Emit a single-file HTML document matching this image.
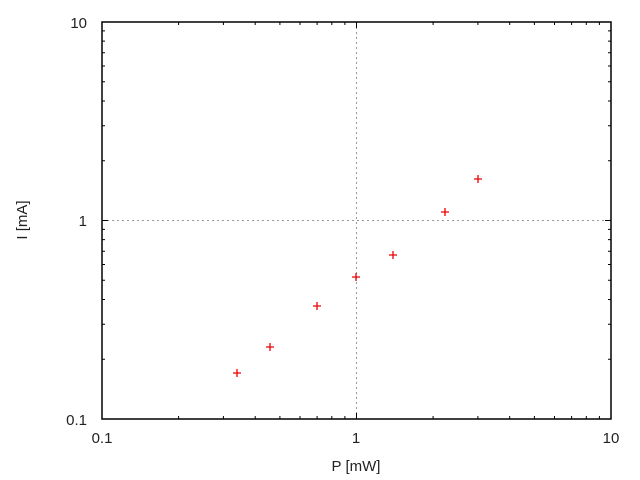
<!DOCTYPE html><html><head><style>body{margin:0;background:#fff}svg{display:block}text{font-family:"Liberation Sans","DejaVu Sans",sans-serif;font-size:15px;fill:#222}</style></head><body>
<svg width="640" height="480" xmlns="http://www.w3.org/2000/svg">
<g stroke="#999" stroke-dasharray="2,3" stroke-width="1">
<line x1="356.5" y1="22" x2="356.5" y2="419"/>
<line x1="102" y1="220.5" x2="611" y2="220.5"/>
</g>
<path stroke="#000" stroke-width="1" fill="none" d="
M178.6 419v-3M223.4 419v-3M255.2 419v-3M279.9 419v-3M300 419v-3M317.1 419v-3M331.8 419v-3M344.9 419v-3M356.5 419v-6
M433.1 419v-3M477.9 419v-3M509.7 419v-3M534.4 419v-3M554.5 419v-3M571.6 419v-3M586.3 419v-3M599.4 419v-3
M178.6 22v3M223.4 22v3M255.2 22v3M279.9 22v3M300 22v3M317.1 22v3M331.8 22v3M344.9 22v3M356.5 22v6
M433.1 22v3M477.9 22v3M509.7 22v3M534.4 22v3M554.5 22v3M571.6 22v3M586.3 22v3M599.4 22v3
M102 359.2h3M102 324.3h3M102 299.5h3M102 280.3h3M102 264.5h3M102 251.3h3M102 239.6h3M102 229.4h3M102 220.5h6
M102 160.7h3M102 125.8h3M102 101h3M102 81.8h3M102 66h3M102 52.8h3M102 41.1h3M102 30.9h3
M611 359.2h-3M611 324.3h-3M611 299.5h-3M611 280.3h-3M611 264.5h-3M611 251.3h-3M611 239.6h-3M611 229.4h-3M611 220.5h-6
M611 160.7h-3M611 125.8h-3M611 101h-3M611 81.8h-3M611 66h-3M611 52.8h-3M611 41.1h-3M611 30.9h-3"/>
<rect x="102" y="22" width="509" height="397" fill="none" stroke="#000" stroke-width="1.5"/>
<g text-anchor="end">
<text x="87" y="28">10</text><text x="87" y="226">1</text><text x="87" y="425">0.1</text>
</g>
<g text-anchor="middle">
<text x="102" y="443">0.1</text><text x="356" y="443">1</text><text x="611" y="443">10</text>
<text x="356" y="471">P [mW]</text>
<text transform="translate(27,220) rotate(-90)">I [mA]</text>
</g>
<path stroke="#e00" stroke-width="1.3" fill="none" d="
M233 373h8M237 369v8
M266 347h8M270 343v8
M313 306h8M317 302v8
M352 277h8M356 273v8
M389 255h8M393 251v8
M441 212h8M445 208v8
M474 179h8M478 175v8"/>
</svg></body></html>
